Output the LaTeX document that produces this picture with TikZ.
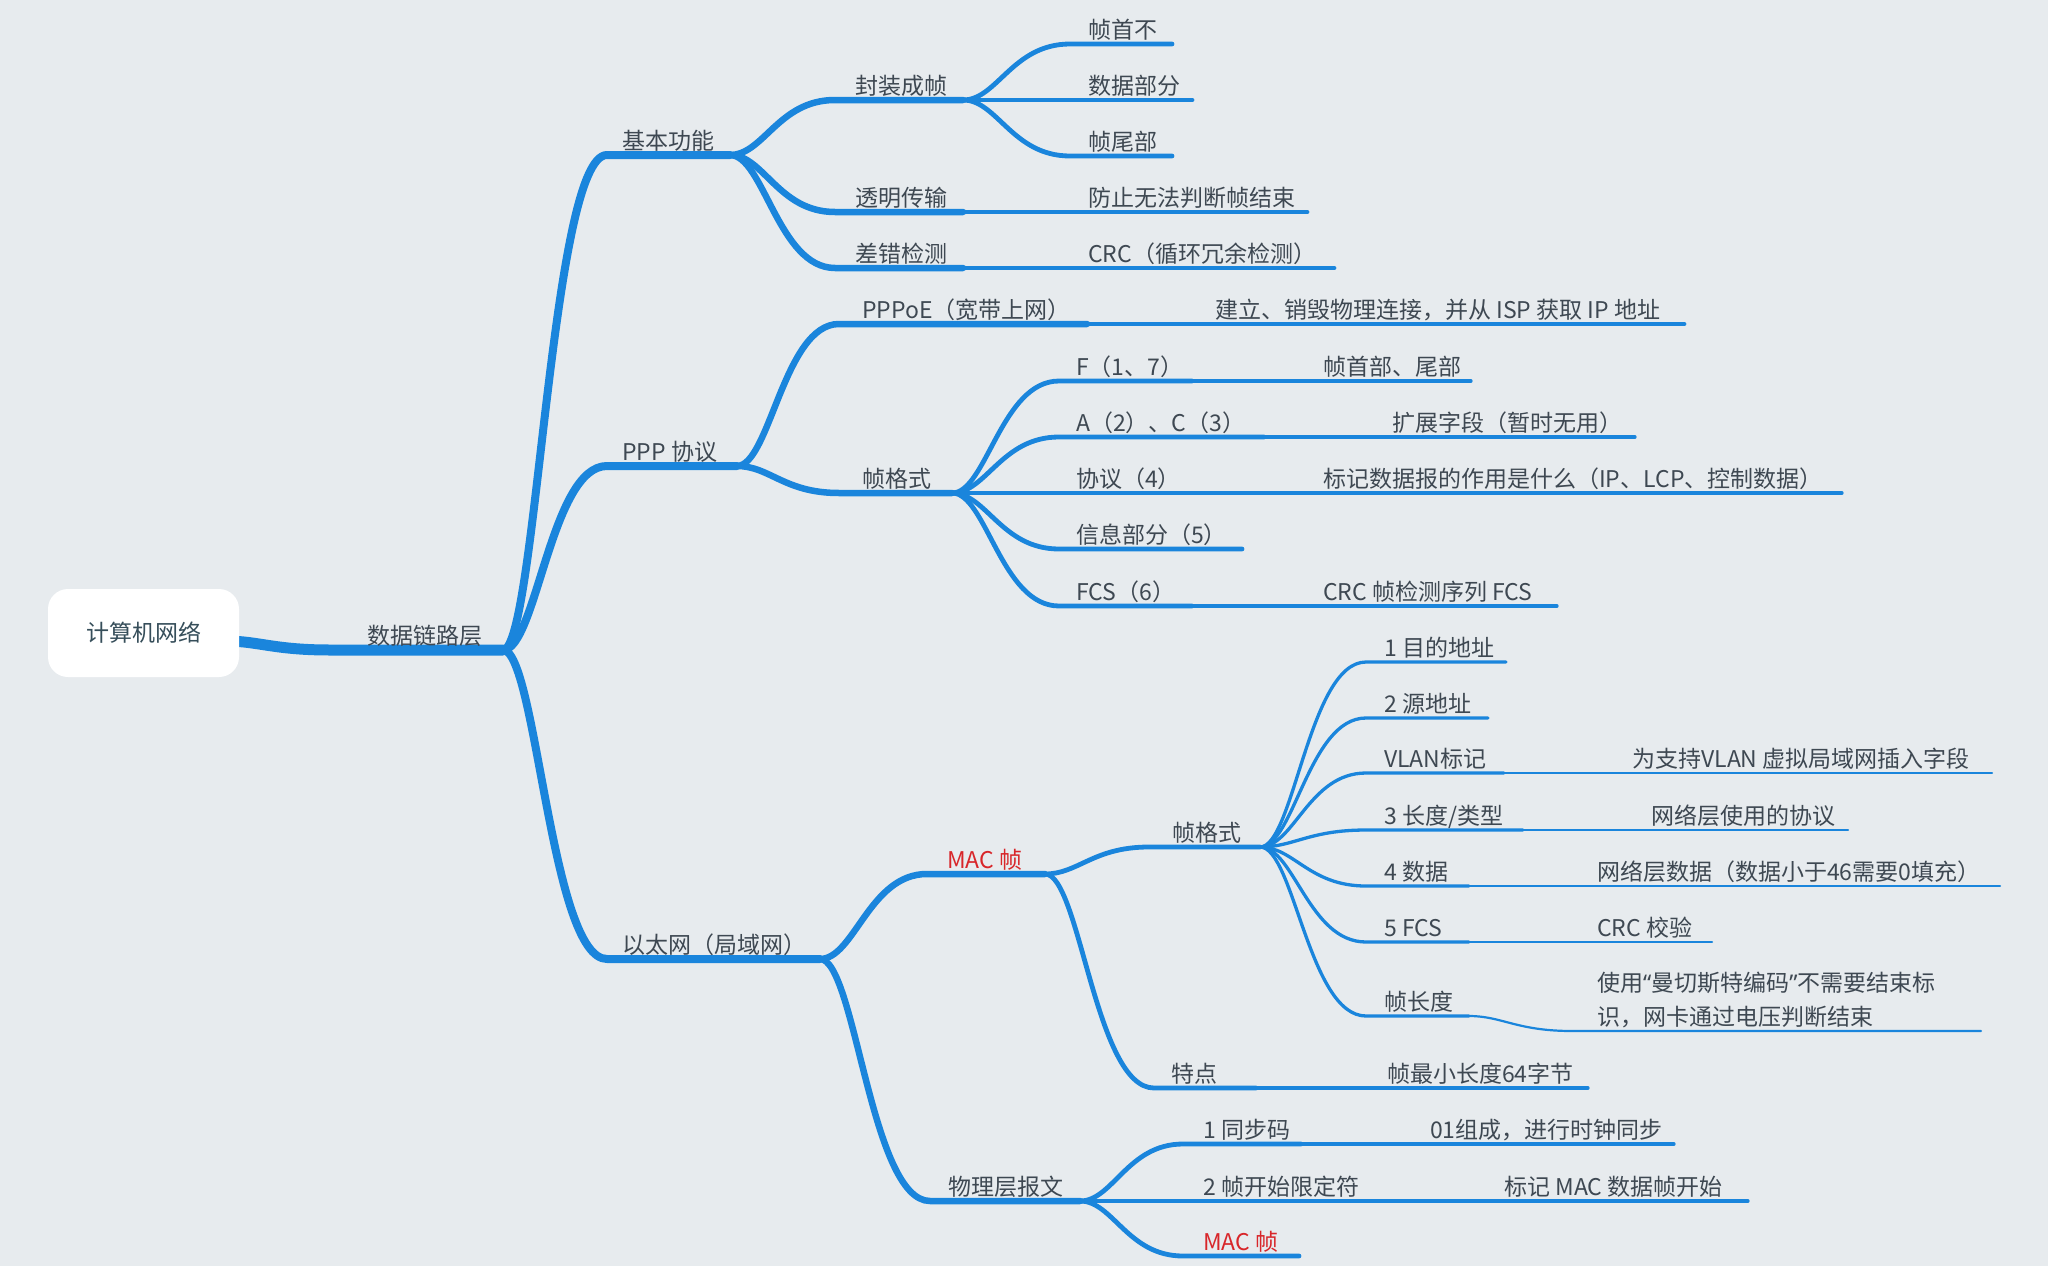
\documentclass[tikz,border=0pt]{standalone}
\usepackage{fontspec}
\setmainfont{Noto Sans CJK SC}
\newfontfamily\latinq{Noto Sans}
\usetikzlibrary{calc}
\definecolor{bg}{RGB}{231,235,238}
\definecolor{branch}{RGB}{26,133,220}
\definecolor{ink}{RGB}{62,72,82}
\definecolor{rootink}{RGB}{54,78,90}
\definecolor{hot}{RGB}{216,38,42}
% curved link from a fork point to the start of a child's underline, then the underline
\newcommand{\fork}[4]{%
  \draw[br,#1] let \p1=(#2), \p2=(#3) in
    (\p1) .. controls ({\x1+0.32*(\x2-\x1)},\y1) and ({\x1+0.46*(\x2-\x1)},\y2) .. (\p2) -- (#4);}
% straight continuation of an underline
\newcommand{\run}[3]{\draw[br,#1] (#2) -- (#3);}
\begin{document}
\begin{tikzpicture}[x=1pt,y=-1pt,
  br/.style={draw=branch,line cap=round,line join=round},
  w0/.style={line width=11pt},
  w1/.style={line width=8pt},
  w2/.style={line width=6.5pt},
  w3/.style={line width=4.8pt},
  w4/.style={line width=3.3pt},
  w5/.style={line width=2.2pt},
  lab/.style={anchor=base west,inner sep=0pt,yshift=-3pt,text=ink,font=\fontsize{23}{34}\selectfont},
  hotlab/.style={lab,text=hot},
  rootbox/.style={fill=white,rounded corners=20pt,minimum width=191pt,minimum height=88pt,
    inner sep=0pt,text=rootink,font=\fontsize{23}{28}\selectfont}]
\path[fill=bg] (0,0) rectangle (2048,1266);

% ---------- anchor points of every underline ----------
\coordinate (rootout) at (225,641);
\coordinate (dls) at (330,650);   \coordinate (dle) at (503,650);
% level 1
\coordinate (jbs) at (607,155);   \coordinate (jbe) at (730,155);
\coordinate (pps) at (607,466);   \coordinate (ppe) at (737,466);
\coordinate (ets) at (607,959);   \coordinate (ete) at (820,959);
% level 2
\coordinate (fzs) at (835,100);   \coordinate (fze) at (963,100);
\coordinate (tms) at (835,212);   \coordinate (tme) at (963,212);
\coordinate (ccs) at (835,268);   \coordinate (cce) at (963,268);
\coordinate (pos) at (839,324);   \coordinate (poe) at (1087,324);
\coordinate (pfs) at (839,493);   \coordinate (pfe) at (952,493);
\coordinate (mcs) at (927,874);   \coordinate (mce) at (1045,874);
\coordinate (wls) at (930,1201);  \coordinate (wle) at (1080,1201);
% level 3
\coordinate (zss) at (1070,44);   \coordinate (zse) at (1172,44);
\coordinate (sje) at (1192,100);
\coordinate (zws) at (1070,156);  \coordinate (zwe) at (1172,156);
\coordinate (fpe) at (1307,212);
\coordinate (crce) at (1334,268);
\coordinate (jle) at (1684,324);
\coordinate (ffs) at (1059,381);  \coordinate (ffe) at (1192,381);
\coordinate (acs) at (1059,437);  \coordinate (ace) at (1264,437);
\coordinate (xye) at (1194,493);
\coordinate (xxs) at (1059,549);  \coordinate (xxe) at (1242,549);
\coordinate (fcs) at (1059,606);  \coordinate (fce) at (1192,606);
\coordinate (mfs) at (1149,847);  \coordinate (mfe) at (1260,847);
\coordinate (tds) at (1154,1088); \coordinate (tde) at (1256,1088);
\coordinate (tbs) at (1183,1144); \coordinate (tbe) at (1301,1144);
\coordinate (kse) at (1375,1201);
\coordinate (mms) at (1183,1256); \coordinate (mme) at (1299,1256);
% level 4
\coordinate (swe) at (1471,381);
\coordinate (kze) at (1635,437);
\coordinate (bje) at (1842,493);
\coordinate (cfe) at (1557,606);
\coordinate (mds) at (1366,662);  \coordinate (mde) at (1506,662);
\coordinate (yds) at (1366,718);  \coordinate (yde) at (1488,718);
\coordinate (vls) at (1366,773);  \coordinate (vle) at (1504,773);
\coordinate (cds) at (1366,830);  \coordinate (cde) at (1523,830);
\coordinate (sds) at (1366,886);  \coordinate (sde) at (1469,886);
\coordinate (f5s) at (1366,942);  \coordinate (f5e) at (1469,942);
\coordinate (zcs) at (1366,1016); \coordinate (zce) at (1469,1016);
\coordinate (zxe) at (1588,1088);
\coordinate (tye) at (1674,1144);
\coordinate (bme) at (1748,1201);
% level 5
\coordinate (wze) at (1992,773);
\coordinate (wce) at (1848,830);
\coordinate (wse) at (2000,886);
\coordinate (cje) at (1712,942);
\coordinate (mqs) at (1572,1031); \coordinate (mqe) at (1981,1031);

% ---------- branches ----------
\fork{w0}{rootout}{dls}{dle}
\fork{w1}{dle}{jbs}{jbe}
\fork{w1}{dle}{pps}{ppe}
\fork{w1}{dle}{ets}{ete}

\fork{w2}{jbe}{fzs}{fze}
\fork{w2}{jbe}{tms}{tme}
\fork{w2}{jbe}{ccs}{cce}
\fork{w2}{ppe}{pos}{poe}
\fork{w2}{ppe}{pfs}{pfe}
\fork{w2}{ete}{mcs}{mce}
\fork{w2}{ete}{wls}{wle}

\fork{w3}{fze}{zss}{zse}
\run{w3}{fze}{sje}
\fork{w3}{fze}{zws}{zwe}
\run{w3}{tme}{fpe}
\run{w3}{cce}{crce}
\run{w3}{poe}{jle}
\fork{w3}{pfe}{ffs}{ffe}
\fork{w3}{pfe}{acs}{ace}
\run{w3}{pfe}{xye}
\fork{w3}{pfe}{xxs}{xxe}
\fork{w3}{pfe}{fcs}{fce}
\fork{w3}{mce}{mfs}{mfe}
\fork{w3}{mce}{tds}{tde}
\fork{w3}{wle}{tbs}{tbe}
\run{w3}{wle}{kse}
\fork{w3}{wle}{mms}{mme}

\run{w4}{ffe}{swe}
\run{w4}{ace}{kze}
\run{w4}{xye}{bje}
\run{w4}{fce}{cfe}
\fork{w4}{mfe}{mds}{mde}
\fork{w4}{mfe}{yds}{yde}
\fork{w4}{mfe}{vls}{vle}
\fork{w4}{mfe}{cds}{cde}
\fork{w4}{mfe}{sds}{sde}
\fork{w4}{mfe}{f5s}{f5e}
\fork{w4}{mfe}{zcs}{zce}
\run{w4}{tde}{zxe}
\run{w4}{tbe}{tye}
\run{w4}{kse}{bme}

\run{w5}{vle}{wze}
\run{w5}{cde}{wce}
\run{w5}{sde}{wse}
\run{w5}{f5e}{cje}
\fork{w5}{zce}{mqs}{mqe}

% ---------- topics ----------
\node[rootbox] (root) at (143.5,633) {计算机网络};
\node[lab] (dl) at (367,641) {数据链路层};

\node[lab] (jb) at (622,146) {基本功能};
\node[lab] (pp) at (622,457) {PPP 协议};
\node[lab] (et) at (622,950) {以太网（局域网）};

\node[lab] (fz) at (855,91) {封装成帧};
\node[lab] (tm) at (855,203) {透明传输};
\node[lab] (cc) at (855,259) {差错检测};
\node[lab] (po) at (862,315) {PPPoE（宽带上网）};
\node[lab] (pf) at (862,484) {帧格式};
\node[hotlab] (mc) at (947,865) {MAC 帧};
\node[lab] (wl) at (948,1192) {物理层报文};

\node[lab] (zs) at (1088,35) {帧首不};
\node[lab] (sj) at (1088,91) {数据部分};
\node[lab] (zw) at (1088,147) {帧尾部};
\node[lab] (fp) at (1088,203) {防止无法判断帧结束};
\node[lab] (crc) at (1088,259) {CRC（循环冗余检测）};
\node[lab] (jl) at (1215,315) {建立、销毁物理连接，并从 ISP 获取 IP 地址};
\node[lab] (ff) at (1076,372) {F（1、7）};
\node[lab] (ac) at (1076,428) {A（2）、C（3）};
\node[lab] (xy) at (1076,484) {协议（4）};
\node[lab] (xx) at (1076,540) {信息部分（5）};
\node[lab] (fc) at (1076,597) {FCS（6）};
\node[lab] (mf) at (1172,838) {帧格式};
\node[lab] (td) at (1171,1079) {特点};
\node[lab] (tb) at (1203,1135) {1 同步码};
\node[lab] (ks) at (1203,1192) {2 帧开始限定符};
\node[hotlab] (mm) at (1203,1247) {MAC 帧};

\node[lab] (sw) at (1323,372) {帧首部、尾部};
\node[lab] (kz) at (1392,428) {扩展字段（暂时无用）};
\node[lab] (bj) at (1323,484) {标记数据报的作用是什么（IP、LCP、控制数据）};
\node[lab] (cf) at (1323,597) {CRC 帧检测序列 FCS};
\node[lab] (md) at (1384,653) {1 目的地址};
\node[lab] (yd) at (1384,709) {2 源地址};
\node[lab] (vl) at (1384,764) {VLAN标记};
\node[lab] (cd) at (1384,821) {3 长度/类型};
\node[lab] (sd) at (1384,877) {4 数据};
\node[lab] (f5) at (1384,933) {5 FCS};
\node[lab] (zc) at (1384,1007) {帧长度};
\node[lab] (zx) at (1387,1079) {帧最小长度64字节};
\node[lab] (ty) at (1430,1135) {01组成，进行时钟同步};
\node[lab] (bm) at (1504,1192) {标记 MAC 数据帧开始};

\node[lab] (vz) at (1632,764) {为支持VLAN 虚拟局域网插入字段};
\node[lab] (wc) at (1651,821) {网络层使用的协议};
\node[lab] (ws) at (1597,877) {网络层数据（数据小于46需要0填充）};
\node[lab] (cj) at (1597,933) {CRC 校验};
\node[lab,align=left] (mq) at (1597,1022) {使用{\latinq “}曼切斯特编码{\latinq ”}不需要结束标\\识，网卡通过电压判断结束};
\end{tikzpicture}
\end{document}
